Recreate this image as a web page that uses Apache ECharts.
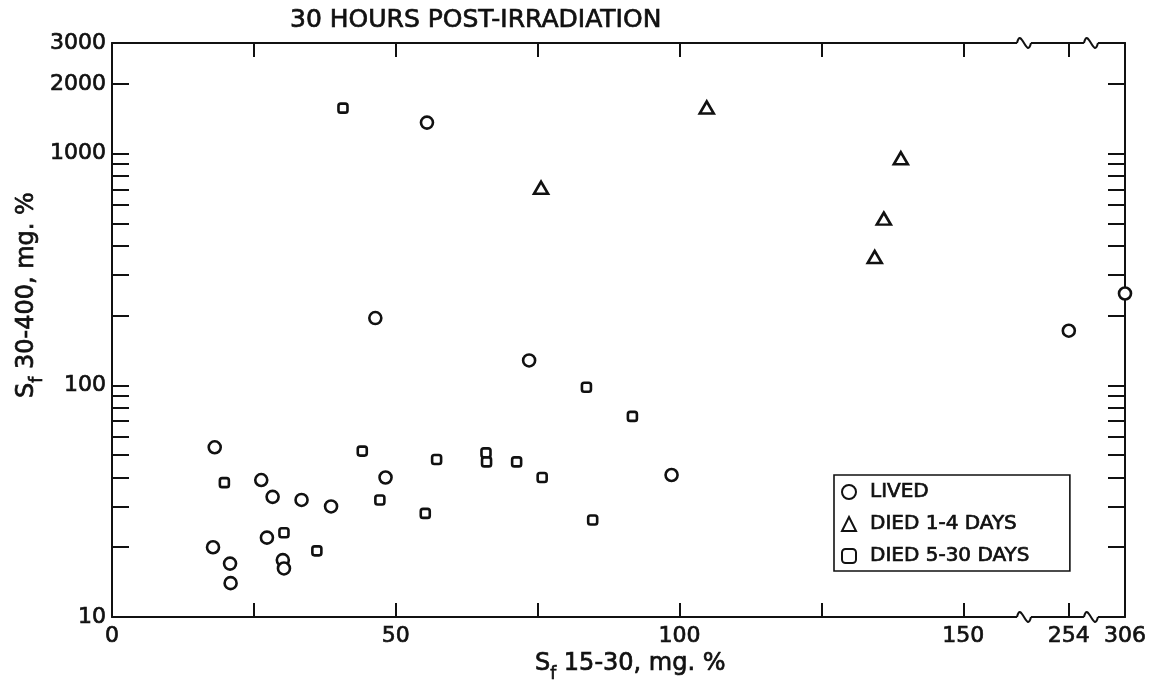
<!DOCTYPE html>
<html><head><meta charset="utf-8">
<script src="https://cdn.jsdelivr.net/npm/echarts@6/dist/echarts.min.js"></script>
<style>html,body{margin:0;padding:0;background:#fff}#c{width:1150px;height:683px}</style>
</head><body><div id="c"></div>
<script>
// ---- data ----
const seriesNames = ['LIVED', 'DIED 1-4 DAYS', 'DIED 5-30 DAYS'];
const livedX = [18.1, 26.3, 28.3, 33.4, 38.6, 48.2, 17.8, 20.8, 20.9, 27.3, 30.1, 30.3, 46.4, 55.5, 73.5, 98.6, 254, 306];
const livedY = [54, 39, 33, 32, 30, 40, 20, 17, 14, 22, 17.6, 16.2, 195, 1360, 128, 41, 172, 249];
const died14X = [75.6, 104.8, 139.0, 136.0, 134.4];
const died14Y = [712, 1580, 955, 524, 358];
const died530X = [40.7, 19.8, 30.3, 36.1, 44.1, 47.2, 55.2, 57.2, 65.9, 66.0, 71.3, 75.8, 84.7, 83.6, 91.7];
const died530Y = [1570, 38, 23.1, 19.3, 52, 32, 28, 47.8, 51.1, 46.7, 46.7, 40, 26.2, 98, 73.4];
const xTickValues = [25, 50, 75, 100, 125, 150, 254];
const xLabelValues = [0, 50, 100, 150, 254, 306];
const yTickValues = [20, 30, 40, 50, 60, 70, 80, 90, 100, 200, 300, 400, 500, 600, 700, 800, 900, 1000, 2000];
const yLabelValues = [10, 100, 1000, 2000, 3000];
const xBreaks = [[160.1, 246.7], [257.3, 300.6]];

// ---- chart ----
const ink = '#111';
const fontFamily = 'DejaVu Sans';
const thick = { textBorderColor: ink, textBorderWidth: 0.7 };
const chart = echarts.init(document.getElementById('c'), null, { renderer: 'canvas' });
const pairs = (xs, ys) => xs.map((x, i) => [x, ys[i]]);

function xAxisCfg(pos, showLabels) {
  return {
    type: 'value', position: pos, min: 0, max: 306, gridIndex: 0,
    breaks: xBreaks.map(b => ({ start: b[0], end: b[1], gap: 1.2 })),
    breakArea: { show: true, itemStyle: { color: 'rgba(255,255,255,0)', borderColor: 'rgba(255,255,255,0)', borderWidth: 0, opacity: 0 } },
    axisLine: { show: true, onZero: false, lineStyle: { color: ink, width: 2 } },
    axisTick: { show: true, inside: true, length: 14, customValues: xTickValues, lineStyle: { color: ink, width: 2 } },
    axisLabel: Object.assign({ show: showLabels, customValues: xLabelValues, margin: 8, color: ink, fontSize: 22, fontFamily, formatter: v => String(v) }, thick),
    splitLine: { show: false }, minorTick: { show: false }
  };
}
function yAxisCfg(pos, showLabels) {
  return {
    type: 'log', logBase: 10, position: pos, min: 10, max: 3000, gridIndex: 0,
    axisLine: { show: true, onZero: false, lineStyle: { color: ink, width: 2 } },
    axisTick: { show: true, inside: true, length: 17, customValues: yTickValues, lineStyle: { color: ink, width: 2 } },
    axisLabel: Object.assign({ show: showLabels, customValues: yLabelValues, margin: 6, color: ink, fontSize: 22, fontFamily, formatter: v => String(v) }, thick),
    splitLine: { show: false }, minorTick: { show: false }
  };
}
const markStyle = { color: '#fff', borderColor: ink, borderWidth: 2.6, opacity: 1 };

// zrender rich-text token styles for the axis titles
const richTitle = {
  m: { fontSize: 24, lineHeight: 24, fontFamily, fill: ink, stroke: ink, lineWidth: 0.7 },
  sub: { fontSize: 17, lineHeight: 38, fontFamily, verticalAlign: 'bottom', fill: ink, stroke: ink, lineWidth: 0.7 }
};

chart.setOption({
  animation: false,
  backgroundColor: '#fff',
  textStyle: { fontFamily, color: ink },
  title: {
    text: '30 HOURS POST-IRRADIATION', left: 290, top: 8, padding: 0,
    textStyle: Object.assign({ fontSize: 25, fontWeight: 'normal', color: ink, fontFamily }, thick)
  },
  grid: { left: 112, right: 25, top: 43, bottom: 66, containLabel: false },
  xAxis: [xAxisCfg('bottom', true), xAxisCfg('top', false)],
  yAxis: [yAxisCfg('left', true), yAxisCfg('right', false)],
  legend: {
    orient: 'vertical', left: 834, top: 475,
    padding: [6, 40, 4, 7], itemGap: 10, itemWidth: 14, itemHeight: 14,
    borderColor: ink, borderWidth: 1.6, borderRadius: 0, backgroundColor: '#fff',
    textStyle: Object.assign({ color: ink, fontSize: 20, lineHeight: 22, fontFamily, padding: [0, 0, 0, 9] }, thick),
    data: seriesNames
  },
  series: [
    { name: seriesNames[0], type: 'scatter', xAxisIndex: 0, yAxisIndex: 0, symbol: 'circle', symbolSize: 12, itemStyle: markStyle, data: pairs(livedX, livedY), z: 5 },
    { name: seriesNames[1], type: 'scatter', xAxisIndex: 0, yAxisIndex: 0, symbol: 'triangle', symbolSize: [14, 12], itemStyle: markStyle, data: pairs(died14X, died14Y), z: 5 },
    { name: seriesNames[2], type: 'scatter', xAxisIndex: 0, yAxisIndex: 0, symbol: 'roundRect', symbolSize: 9, itemStyle: markStyle, data: pairs(died530X, died530Y), z: 5 }
  ]
});

// axis titles and break squiggles (positions derived from the chart's own scales)
const els = [
  { type: 'text', x: 535, y: 664, style: { text: '{m|S}{sub|f}{m| 15-30, mg. %}', rich: richTitle, align: 'left', verticalAlign: 'middle' }, z: 50 },
  { type: 'text', x: 27, y: 295, rotation: Math.PI / 2, style: { text: '{m|S}{sub|f}{m| 30-400, mg. %}', rich: richTitle, align: 'center', verticalAlign: 'middle' }, z: 50 }
];
const yb = chart.convertToPixel({ yAxisIndex: 0 }, 10);
const yt = chart.convertToPixel({ yAxisIndex: 0 }, 3000);
xBreaks.forEach(b => {
  const x0 = chart.convertToPixel({ xAxisIndex: 0 }, b[0]);
  const x1 = chart.convertToPixel({ xAxisIndex: 0 }, b[1]);
  const xc = (x0 + x1) / 2;
  [yb, yt].forEach(y => {
    els.push({ type: 'rect', shape: { x: xc - 7, y: y - 2, width: 14, height: 4 }, style: { fill: '#fff' }, z: 100 });
    els.push({ type: 'bezierCurve', shape: { x1: xc - 7, y1: y, cpx1: xc - 3, cpy1: y - 17, cpx2: xc + 3, cpy2: y + 17, x2: xc + 7, y2: y }, style: { stroke: ink, lineWidth: 2, fill: null }, z: 101 });
  });
});
chart.setOption({ graphic: { elements: els } });
</script></body></html>
